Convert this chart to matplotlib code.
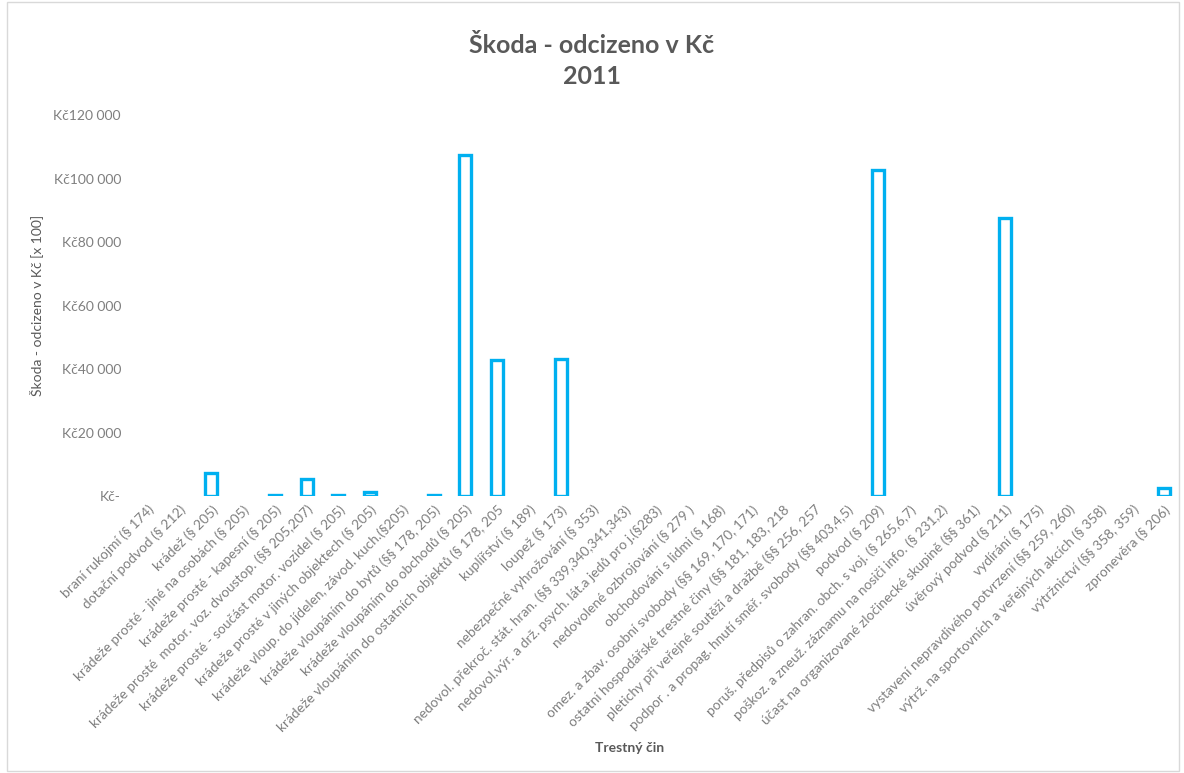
import matplotlib.pyplot as plt
from matplotlib.patches import Rectangle

plt.rcParams['font.family'] = ['Lato', 'DejaVu Sans']

categories = [
    "braní rukojmí (§ 174)",
    "dotační podvod (§ 212)",
    "krádež (§ 205)",
    "krádeže prosté - jiné na osobách (§ 205)",
    "krádeže prosté - kapesní (§ 205)",
    "krádeže prosté  motor. voz. dvoustop. (§§ 205,207)",
    "krádeže prosté - součást motor. vozidel (§ 205)",
    "krádeže prosté v jiných objektech (§ 205)",
    "krádeže vloup. do jídelen, závod. kuch.(§205)",
    "krádeže vloupáním do bytů (§§ 178, 205)",
    "krádeže vloupáním do obchodů (§ 205)",
    "krádeže vloupáním do ostatních objektů (§ 178, 205",
    "kuplířství (§ 189)",
    "loupež (§ 173)",
    "nebezpečné vyhrožování (§ 353)",
    "nedovol. překroč. stát. hran. (§§ 339,340,341,343)",
    "nedovol.výr. a drž. psych. lát.a jedů pro j.(§283)",
    "nedovolené ozbrojování (§ 279 )",
    "obchodování s lidmi (§ 168)",
    "omez. a zbav. osobní svobody (§§ 169, 170, 171)",
    "ostatní hospodářské trestné činy (§§ 181, 183, 218",
    "pletichy při veřejné soutěži a dražbě (§§ 256, 257",
    "podpor . a propag. hnutí směř. svobody (§§ 403,4,5)",
    "podvod (§ 209)",
    "poruš. předpisů o zahran. obch. s voj. (§ 265,6,7)",
    "poškoz. a zneuž. záznamu na nosiči info. (§ 231,2)",
    "účast na organizované zločinecké skupině (§§ 361)",
    "úvěrový podvod (§ 211)",
    "vydírání (§ 175)",
    "vystavení nepravdivého potvrzení (§§ 259, 260)",
    "výtrž. na sportovních a veřejných akcích (§ 358)",
    "výtržnictví (§§ 358, 359)",
    "zpronevěra (§ 206)",
]

# škoda v Kč [x 100]
values = [0, 0, 7200, 0, 500, 5400, 500, 1200, 0, 500, 107400, 42800,
          0, 43100, 0, 0, 0, 0, 0, 0, 0, 0, 0, 102700, 0, 0, 0, 87600,
          0, 0, 0, 0, 2500]

yticks = [0, 20000, 40000, 60000, 80000, 100000, 120000]
ytick_labels = ["Kč-", "Kč20 000", "Kč40 000", "Kč60 000", "Kč80 000",
                "Kč100 000", "Kč120 000"]

grey = '#595959'
lgrey = '#7f7f7f'

fig = plt.figure(figsize=(11.84, 7.73), dpi=100)
ax = fig.add_axes([0.1115, 0.358, 0.885, 0.493])

x = list(range(len(categories)))
for xi, v in zip(x, values):
    if v > 0:
        ax.bar(xi, v, width=0.38, facecolor='white', edgecolor='#00B0F0',
               linewidth=2.4)

ax.set_xlim(-0.5, len(categories) - 0.5)
ax.set_ylim(0, 120000)
ax.set_yticks(yticks)
ax.set_yticklabels(ytick_labels, color=lgrey, fontsize=10)
ax.tick_params(axis='y', length=0, pad=8)
ax.set_xticks(x)
ax.set_xticklabels(categories, rotation=45, ha='right', rotation_mode='anchor',
                   color=lgrey, fontsize=9.9)
ax.tick_params(axis='x', length=0, pad=5)
for s in ax.spines.values():
    s.set_visible(False)

ax.set_ylabel("Škoda - odcizeno v Kč [x 100]", color=grey, fontsize=10)
ax.yaxis.set_label_coords(-0.085, 0.5)
fig.text(0.532, 0.027, "Trestný čin", color=grey, fontsize=10,
         fontweight='bold', ha='center')

fig.text(0.5, 0.921, "Škoda - odcizeno v Kč\n2011", color=grey, fontsize=18,
         fontweight='bold', ha='center', va='center', linespacing=1.45)

fig.patches.append(Rectangle((0.006, 0.003), 0.99, 0.994, transform=fig.transFigure,
                             fill=False, edgecolor='#d9d9d9', linewidth=1))

fig.savefig('out.png', dpi=100)
